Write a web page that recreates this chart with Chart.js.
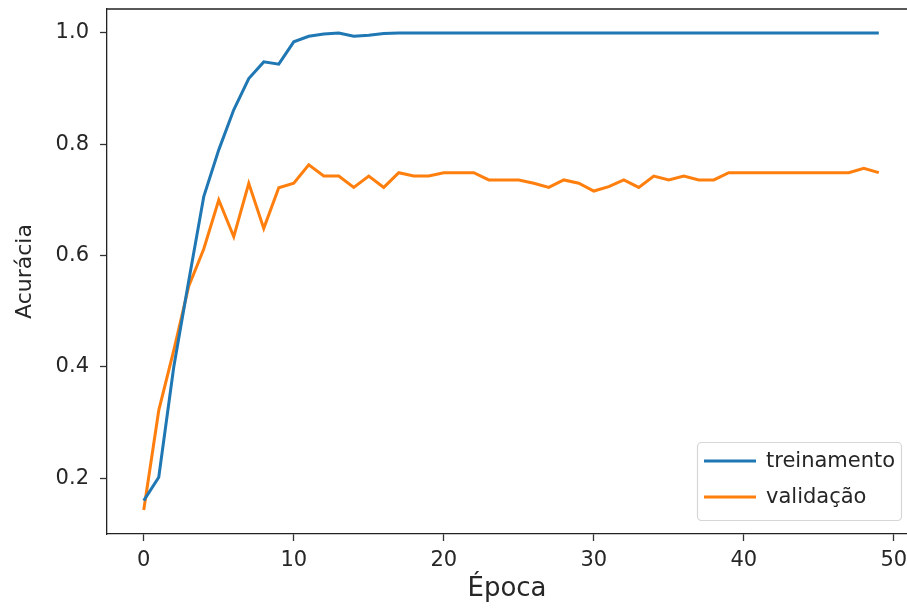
<!DOCTYPE html>
<html>
<head>
<meta charset="utf-8">
<script src="https://cdn.jsdelivr.net/npm/chart.js@4/dist/chart.umd.min.js"></script>
<style>
  html, body { margin: 0; padding: 0; background: #fff; overflow: hidden; }
  #wrap { width: 907px; height: 612px; position: relative; }
</style>
</head>
<body>
<div id="wrap"><canvas id="c" width="907" height="612"></canvas></div>
<script>
// ---- data ----
const epochs = [0,1,2,3,4,5,6,7,8,9,10,11,12,13,14,15,16,17,18,19,20,21,22,23,24,25,26,27,28,29,30,31,32,33,34,35,36,37,38,39,40,41,42,43,44,45,46,47,48,49];
const treinamento = [0.160,0.202,0.400,0.555,0.706,0.790,0.862,0.918,0.948,0.944,0.984,0.994,0.998,1.000,0.994,0.996,0.999,1.000,1.000,1.000,1.000,1.000,1.000,1.000,1.000,1.000,1.000,1.000,1.000,1.000,1.000,1.000,1.000,1.000,1.000,1.000,1.000,1.000,1.000,1.000,1.000,1.000,1.000,1.000,1.000,1.000,1.000,1.000,1.000,1.000];
const validacao = [0.143,0.322,0.430,0.545,0.612,0.700,0.634,0.730,0.649,0.722,0.730,0.763,0.743,0.743,0.7225,0.743,0.7225,0.749,0.743,0.743,0.749,0.749,0.749,0.736,0.736,0.736,0.730,0.7225,0.736,0.730,0.716,0.724,0.736,0.7225,0.743,0.736,0.743,0.736,0.736,0.749,0.749,0.749,0.749,0.749,0.749,0.749,0.749,0.749,0.757,0.749];
const seriesLabels = ['treinamento', 'validação'];
const xTicks = [0,10,20,30,40,50];
const yTicks = [0.2,0.4,0.6,0.8,1.0];
const xTitle = 'Época';
const yTitle = 'Acurácia';

const BLUE = '#1f77b4', ORANGE = '#ff7f0e';
const FONT = 'DejaVu Sans';

const toXY = (vals) => epochs.map((e, i) => ({x: e, y: vals[i]}));

// top spine + legend drawn inside the axes
const framePlugin = {
  id: 'frame',
  afterDatasetsDraw(chart) {
    const {ctx, chartArea: a} = chart;
    ctx.save();
    ctx.strokeStyle = '#222';
    ctx.lineWidth = 1.3;
    ctx.beginPath();
    ctx.moveTo(a.left, a.top);
    ctx.lineTo(a.right, a.top);
    ctx.stroke();

    const bx = 697.5, by = 442.5, bw = 204, bh = 78, r = 4;
    ctx.fillStyle = 'rgba(255,255,255,0.85)';
    ctx.strokeStyle = '#d6d6d6';
    ctx.lineWidth = 1.2;
    ctx.beginPath();
    ctx.roundRect(bx, by, bw, bh, r);
    ctx.fill();
    ctx.stroke();
    const rows = [461, 497];
    chart.data.datasets.forEach((ds, i) => {
      const y = rows[i];
      ctx.strokeStyle = ds.borderColor;
      ctx.lineWidth = 3;
      ctx.beginPath();
      ctx.moveTo(704, y);
      ctx.lineTo(756, y);
      ctx.stroke();
      ctx.fillStyle = '#262626';
      ctx.font = '21px "' + FONT + '"';
      ctx.textBaseline = 'middle';
      ctx.textAlign = 'left';
      ctx.fillText(ds.label, 766, y + 1);
    });
    ctx.restore();
  }
};

new Chart(document.getElementById('c'), {
  type: 'line',
  data: {
    datasets: [
      { label: seriesLabels[0], data: toXY(treinamento), borderColor: BLUE, backgroundColor: BLUE, borderWidth: 3, pointRadius: 0, tension: 0, fill: false },
      { label: seriesLabels[1], data: toXY(validacao), borderColor: ORANGE, backgroundColor: ORANGE, borderWidth: 3, pointRadius: 0, tension: 0, fill: false }
    ]
  },
  options: {
    responsive: false,
    animation: false,
    layout: { padding: { top: 9, right: 0, left: 0, bottom: 0 } },
    plugins: { legend: { display: false }, tooltip: { enabled: false } },
    scales: {
      x: {
        type: 'linear',
        min: -2.45, max: 50.88,
        afterBuildTicks: (s) => { s.ticks = xTicks.map(v => ({value: v})); },
        afterFit: (s) => { s.height = 78; s.paddingLeft = 0; s.paddingRight = 0; },
        ticks: { color: '#262626', font: { family: FONT, size: 21 }, padding: 7, maxRotation: 0, autoSkip: false, callback: (v) => String(v) },
        grid: { display: true, drawOnChartArea: false, drawTicks: true, tickLength: 7, tickColor: '#333', tickWidth: 1.3 },
        border: { display: true, color: '#222', width: 1.3 },
        title: { display: true, text: xTitle, color: '#262626', font: { family: FONT, size: 26 }, padding: { top: 0, bottom: 7 } }
      },
      y: {
        type: 'linear',
        min: 0.1, max: 1.043,
        afterBuildTicks: (s) => { s.ticks = yTicks.map(v => ({value: v})); },
        afterFit: (s) => { s.width = 107; s.paddingTop = 0; s.paddingBottom = 0; },
        ticks: { color: '#262626', font: { family: FONT, size: 21 }, padding: 11, autoSkip: false, callback: (v) => Number(v).toFixed(1) },
        grid: { display: true, drawOnChartArea: false, drawTicks: true, tickLength: 7, tickColor: '#333', tickWidth: 1.3 },
        border: { display: true, color: '#222', width: 1.3 },
        title: { display: true, text: yTitle, color: '#262626', font: { family: FONT, size: 22 }, padding: { top: 12, bottom: 0 } }
      }
    }
  },
  plugins: [framePlugin]
});
</script>
</body>
</html>
